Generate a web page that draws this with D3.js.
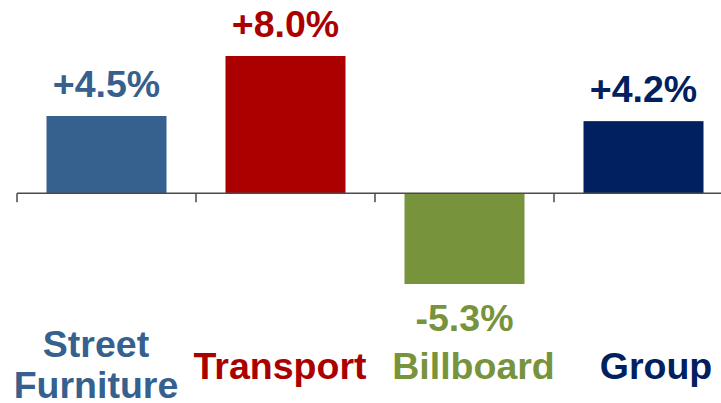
<!DOCTYPE html>
<html>
<head>
<meta charset="utf-8">
<script src="https://cdn.jsdelivr.net/npm/d3@7/dist/d3.min.js"></script>
<style>
  html, body { margin: 0; padding: 0; background: #fff; }
  svg { display: block; }
  text { font-family: "Liberation Sans", Arial, sans-serif; font-weight: bold; }
</style>
</head>
<body>
<svg id="chart" width="721" height="403"></svg>
<script>
// ---- data ----
const categories = ["Street Furniture", "Transport", "Billboard", "Group"];
const labelLines = [["Street", "Furniture"], ["Transport"], ["Billboard"], ["Group"]];
const values = [4.5, 8.0, -5.3, 4.2];
const valueLabels = ["+4.5%", "+8.0%", "-5.3%", "+4.2%"];
const colors = ["#36618F", "#AA0000", "#77933C", "#002060"];

// ---- layout ----
const W = 721, H = 403;
const svg = d3.select("#chart");
const x0 = 17, x1 = 733;
const xGrid = d3.scaleBand().domain(categories).range([x0, x1]);
const x = d3.scaleBand().domain(categories).range([x0, x1])
  .paddingInner(0.3296).paddingOuter(0.1648);
const y = d3.scaleLinear().domain([-5.3, 8.0]).range([284, 56]);
const fs = 37.5;

// category label horizontal offsets (text boxes placed slightly off-center)
const labelDx = [-10.5, -5.5, 9, 12.5];

// bars
svg.selectAll("rect.bar").data(values).join("rect")
  .attr("class", "bar")
  .attr("x", (d, i) => x(categories[i]))
  .attr("width", x.bandwidth())
  .attr("y", d => y(Math.max(0, d)))
  .attr("height", d => Math.abs(y(d) - y(0)))
  .attr("fill", (d, i) => colors[i]);

// axis line and ticks
const y0 = y(0);
svg.append("line")
  .attr("x1", x0).attr("x2", x1).attr("y1", y0).attr("y2", y0)
  .attr("stroke", "#4a4a4a").attr("stroke-width", 1.5);
const tickPos = categories.map(c => xGrid(c)).concat([x1]);
svg.selectAll("line.tick").data(tickPos).join("line")
  .attr("class", "tick")
  .attr("x1", d => d).attr("x2", d => d)
  .attr("y1", y0).attr("y2", y0 + 9)
  .attr("stroke", "#4a4a4a").attr("stroke-width", 1.5);

// value labels
svg.selectAll("text.val").data(values).join("text")
  .attr("class", "val")
  .attr("x", (d, i) => x(categories[i]) + x.bandwidth() / 2)
  .attr("y", d => d >= 0 ? y(d) - 19 : y(d) + 47)
  .attr("text-anchor", "middle")
  .attr("font-size", fs)
  .attr("fill", (d, i) => colors[i])
  .text((d, i) => valueLabels[i]);

// category labels
const cat = svg.selectAll("text.cat").data(categories).join("text")
  .attr("class", "cat")
  .attr("text-anchor", "middle")
  .attr("font-size", fs)
  .attr("fill", (d, i) => colors[i])
  .attr("x", (d, i) => x(d) + x.bandwidth() / 2 + labelDx[i])
  .attr("y", (d, i) => labelLines[i].length > 1 ? 357 : 379);
cat.each(function(d, i) {
  const t = d3.select(this);
  labelLines[i].forEach((line, j) => {
    t.append("tspan")
      .attr("x", x(d) + x.bandwidth() / 2 + labelDx[i])
      .attr("dy", j === 0 ? 0 : 41)
      .text(line);
  });
});
</script>
</body>
</html>
